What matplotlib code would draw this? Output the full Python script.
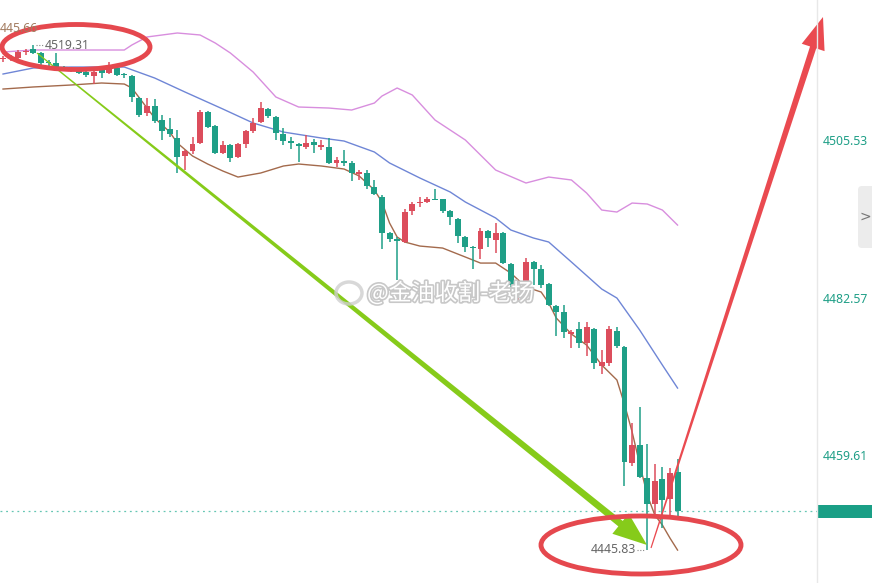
import numpy as np
import matplotlib
matplotlib.use("Agg")
import matplotlib.pyplot as plt
from matplotlib.patches import Ellipse, Polygon, Rectangle, FancyBboxPatch
import matplotlib.patheffects as pe

# candle data
opens = [4517.34, 4517.48, 4517.48, 4518.36, 4518.80, 4518.21, 4516.80, 4516.75, 4516.08, 4515.73,
         4515.73, 4515.44, 4514.86, 4515.73, 4515.30, 4516.03, 4515.06, 4514.86, 4511.65, 4509.47,
         4510.49, 4508.44, 4507.13, 4505.82, 4503.20, 4503.92, 4505.09, 4509.61, 4507.57, 4503.63,
         4504.80, 4503.05, 4504.94, 4506.84, 4508.15, 4510.05, 4508.88, 4506.40, 4505.38, 4504.94,
         4504.51, 4505.24, 4504.51, 4504.51, 4502.18, 4502.47, 4502.18, 4500.57, 4500.72, 4498.68,
         4497.22, 4491.97, 4491.09, 4490.66, 4495.18, 4496.34, 4496.49, 4496.93, 4496.93, 4495.18,
         4494.01, 4491.39, 4489.93, 4489.64, 4492.26, 4490.95, 4491.97, 4487.45, 4483.80, 4484.39,
         4487.74, 4486.72, 4484.53, 4481.33, 4480.45, 4477.24, 4477.97, 4475.93, 4477.97, 4472.58,
         4472.97, 4477.68, 4475.35, 4458.44, 4461.06, 4456.25, 4452.46, 4456.10, 4453.19, 4457.12]
closes = [4517.40, 4517.55, 4518.36, 4518.42, 4518.21, 4516.75, 4516.75, 4516.17, 4516.03, 4515.78,
          4515.30, 4515.01, 4515.44, 4515.30, 4516.03, 4515.01, 4515.01, 4511.80, 4509.17, 4510.49,
          4508.30, 4506.84, 4506.40, 4503.05, 4503.92, 4504.94, 4509.61, 4507.42, 4503.63, 4504.80,
          4502.90, 4504.94, 4506.84, 4508.01, 4510.19, 4509.03, 4506.55, 4505.38, 4505.09, 4504.65,
          4505.09, 4504.80, 4504.80, 4502.18, 4502.61, 4502.18, 4500.72, 4500.86, 4498.82, 4497.65,
          4491.97, 4491.09, 4490.80, 4495.03, 4496.20, 4496.49, 4496.93, 4496.78, 4495.18, 4494.30,
          4491.53, 4489.93, 4489.78, 4492.26, 4491.24, 4491.97, 4487.59, 4484.39, 4483.95, 4487.74,
          4486.72, 4484.39, 4481.47, 4480.45, 4477.53, 4477.53, 4475.93, 4478.26, 4472.97, 4473.12,
          4477.97, 4475.49, 4458.58, 4461.06, 4456.39, 4452.46, 4455.81, 4453.04, 4456.97, 4451.44]
highs = [4517.77, 4517.92, 4518.65, 4518.80, 4519.31, 4518.36, 4517.19, 4518.21, 4516.32, 4516.03,
         4515.88, 4515.73, 4515.73, 4516.03, 4516.90, 4516.17, 4515.30, 4515.01, 4511.80, 4511.65,
         4511.51, 4509.17, 4508.74, 4506.99, 4504.07, 4505.97, 4509.90, 4509.76, 4507.72, 4505.38,
         4504.94, 4505.09, 4506.99, 4508.74, 4511.07, 4510.19, 4509.03, 4507.28, 4505.97, 4505.09,
         4506.26, 4505.67, 4505.53, 4505.82, 4503.05, 4504.07, 4502.47, 4501.15, 4501.15, 4499.70,
         4497.51, 4492.12, 4491.39, 4495.47, 4496.49, 4497.22, 4497.22, 4498.38, 4496.93, 4495.33,
         4494.16, 4491.53, 4490.07, 4492.70, 4492.41, 4493.43, 4492.12, 4487.59, 4484.39, 4488.32,
         4487.88, 4487.30, 4484.68, 4481.47, 4481.47, 4477.83, 4478.99, 4478.99, 4478.12, 4474.89,
         4478.41, 4478.26, 4475.49, 4464.27, 4466.60, 4461.21, 4458.29, 4457.85, 4457.71, 4459.02]
lows = [4516.90, 4517.05, 4517.19, 4517.92, 4518.07, 4516.32, 4516.32, 4516.03, 4515.73, 4515.44,
        4515.15, 4514.71, 4513.69, 4514.57, 4515.15, 4514.86, 4514.57, 4511.07, 4508.88, 4509.03,
        4508.01, 4505.53, 4505.97, 4500.72, 4501.15, 4503.49, 4504.94, 4507.28, 4503.49, 4503.49,
        4502.32, 4502.90, 4504.36, 4506.55, 4508.01, 4508.74, 4505.53, 4504.80, 4504.22, 4502.32,
        4504.22, 4503.63, 4504.07, 4502.03, 4501.59, 4501.74, 4499.55, 4499.70, 4498.38, 4497.51,
        4489.64, 4490.66, 4485.12, 4490.51, 4494.59, 4495.76, 4496.34, 4496.78, 4494.89, 4493.13,
        4490.51, 4489.20, 4486.72, 4488.18, 4489.93, 4489.05, 4487.45, 4484.09, 4481.91, 4483.95,
        4484.39, 4483.95, 4481.33, 4476.95, 4476.66, 4475.20, 4475.20, 4474.02, 4472.14, 4471.41,
        4472.58, 4475.20, 4455.08, 4458.00, 4456.25, 4445.83, 4450.56, 4448.96, 4450.56, 4450.27]

# bollinger-style bands, sampled at candle indices
upper_idx = [0, 4, 8, 12, 16, 17, 19, 23, 26, 28, 30, 33, 36, 39, 43, 46, 49, 50, 52, 54,
             57, 61, 65, 69, 72, 75, 77, 79, 81, 83, 85, 87, 89]
upper_val = [4518.36, 4518.65, 4518.65, 4518.65, 4518.65, 4519.38, 4520.55, 4521.13, 4520.84, 4519.67,
             4518.21, 4515.44, 4511.80, 4510.34, 4510.19, 4509.90, 4510.92, 4511.94, 4513.11, 4512.09,
             4508.44, 4505.53, 4501.15, 4499.26, 4500.13, 4499.70, 4497.80, 4495.32, 4495.03, 4496.34,
             4496.20, 4495.32, 4493.13]
mid_idx = [0, 4, 9, 16, 20, 24, 29, 33, 37, 42, 45, 49, 51, 55, 59, 61, 65, 67, 70, 72,
           75, 79, 81, 84, 87, 89]
mid_val = [4515.15, 4516.03, 4516.17, 4516.17, 4514.57, 4512.53, 4510.05, 4508.01, 4506.69, 4505.82,
           4505.38, 4503.78, 4502.18, 4499.99, 4497.95, 4496.49, 4494.16, 4492.41, 4491.24, 4490.66,
           4487.74, 4483.80, 4482.49, 4477.83, 4472.72, 4469.37]
lower_idx = [0, 4, 9, 13, 16, 17, 20, 22, 23, 25, 27, 29, 31, 34, 37, 39, 42, 45, 47, 49,
             50, 51, 52, 53, 55, 58, 61, 63, 65, 67, 69, 71, 72, 73, 75, 77, 79, 81, 82, 83,
             84, 85, 86, 87, 88, 89]
lower_val = [4512.96, 4513.26, 4513.55, 4513.84, 4513.69, 4513.11, 4508.74, 4506.69, 4505.09, 4503.20,
             4502.03, 4501.01, 4500.13, 4500.72, 4501.74, 4502.03, 4501.74, 4501.30, 4500.28, 4498.24,
             4496.49, 4493.43, 4491.39, 4490.66, 4490.07, 4489.78, 4488.47, 4487.59, 4487.59, 4486.13,
             4484.09, 4483.37, 4481.77, 4479.58, 4477.24, 4475.64, 4472.72, 4470.54, 4467.00, 4463.00,
             4458.30, 4453.80, 4450.85, 4449.40, 4447.50, 4445.75]

axis_ticks = [4505.53, 4482.57, 4459.61]
high_mark = 4519.31
low_mark = 4445.83
corner_text = "445.66"
watermark = "@金油收割-老扬"

UP = "#dc4d5c"
DOWN = "#1f9f87"
W, H = 872, 583
FS = 8.8

fig = plt.figure(figsize=(8.72, 5.83), dpi=100)
ax = fig.add_axes([0, 0, 817 / W, 1])
ax.set_xlim(-0.4, 107.4)
ax.set_ylim(4440.95, 4525.94)
for s in ax.spines.values():
    s.set_visible(False)
ax.set_xticks([])

x = np.arange(len(opens))
o = np.array(opens); c = np.array(closes)
cols = [UP if cc >= oo else DOWN for oo, cc in zip(o, c)]
ax.vlines(x, lows, highs, colors=cols, lw=1.1, zorder=3)
body = np.maximum(np.abs(c - o), 0.18)
ax.bar(x, body, bottom=np.minimum(o, c), width=0.78, color=cols, zorder=4)

ax.plot(upper_idx, upper_val, color="#d88ede", lw=1.0, zorder=2)
ax.plot(mid_idx, mid_val, color="#6f86d6", lw=1.0, zorder=2)
ax.plot(lower_idx, lower_val, color="#a36a4c", lw=1.0, zorder=2)

# current price line
ax.axhline(closes[-1], color="#3fb8a0", lw=0.9, ls=(0, (1.5, 3)), alpha=0.8, zorder=1)

# right axis
ax.yaxis.tick_right()
ax.set_yticks(axis_ticks)
ax.set_yticklabels([f"{v:.2f}" for v in axis_ticks])
ax.tick_params(axis="y", length=0, pad=4, labelsize=FS, labelcolor="#1f9f87")
for t in ax.get_yticklabels():
    t.set_fontfamily("Noto Sans")

# high / low labels
ih = int(np.argmax(highs)); il = int(np.argmin(lows))
ax.plot([ih + 0.3, ih + 1.3], [high_mark, high_mark], color="#888888", lw=0.8, ls=(0, (1, 1.5)))
ax.text(ih + 1.45, high_mark, f"{high_mark:.2f}", fontsize=FS, color="#666666",
        va="center", ha="left", family="Noto Sans")
ax.plot([il - 1.4, il - 0.3], [low_mark, low_mark], color="#888888", lw=0.8, ls=(0, (1, 1.5)))
ax.text(il - 1.5, low_mark, f"{low_mark:.2f}", fontsize=FS, color="#666666",
        va="center", ha="right", family="Noto Sans")

# overlay in pixel coords for the hand-drawn marks
ov = fig.add_axes([0, 0, 1, 1], zorder=10)
ov.set_xlim(0, W); ov.set_ylim(H, 0)
ov.axis("off")
ov.patch.set_alpha(0)

ov.axvline(817, color="#e8e8e8", lw=1)
ov.add_patch(Rectangle((817, 505), 55, 13, color="#1a9f86", lw=0))
ov.add_patch(FancyBboxPatch((858, 186), 20, 62, boxstyle="round,pad=0,rounding_size=4",
                            fc="#ececec", ec="none"))
ov.text(865, 217, ">", fontsize=10, color="#777777", ha="center", va="center")
ov.text(0, 28, corner_text, fontsize=FS, color="#a27a5e", ha="left", va="center",
        family="Noto Sans")


def tapered(p0, p1, w0, w1, hl, hw):
    p0 = np.array(p0, float); p1 = np.array(p1, float)
    d = p1 - p0
    u = d / np.hypot(*d)
    n = np.array([-u[1], u[0]])
    b = p1 - u * hl
    return [p0 + n * w0 / 2, b + n * w1 / 2, b + n * hw, p1, b - n * hw, b - n * w1 / 2, p0 - n * w0 / 2]


ov.add_patch(Polygon(tapered((37, 53), (647, 545), 1.2, 7.0, 34, 13), closed=True,
                     fc="#86cb1a", ec="none"))
ov.add_patch(Polygon(tapered((651, 548), (823, 17), 1.2, 6.5, 32, 12), closed=True,
                     fc="#ea4a50", ec="none"))
ov.add_patch(Ellipse((76, 47), 148, 45, fill=False, ec="#e5484e", lw=3.5))
ov.add_patch(Ellipse((641, 545), 200, 58, fill=False, ec="#e5484e", lw=3.5))

# watermark
ov.add_patch(Ellipse((349, 293), 26, 22, fill=False, ec="#cfcfcf", lw=2.5, alpha=0.8))
ov.text(367, 293, watermark, fontsize=16.5, color="white", ha="left", va="center",
        family=["Noto Sans CJK SC", "DejaVu Sans"],
        path_effects=[pe.withStroke(linewidth=2.4, foreground="#c8c8c8")])

fig.savefig("out.png", dpi=100)
